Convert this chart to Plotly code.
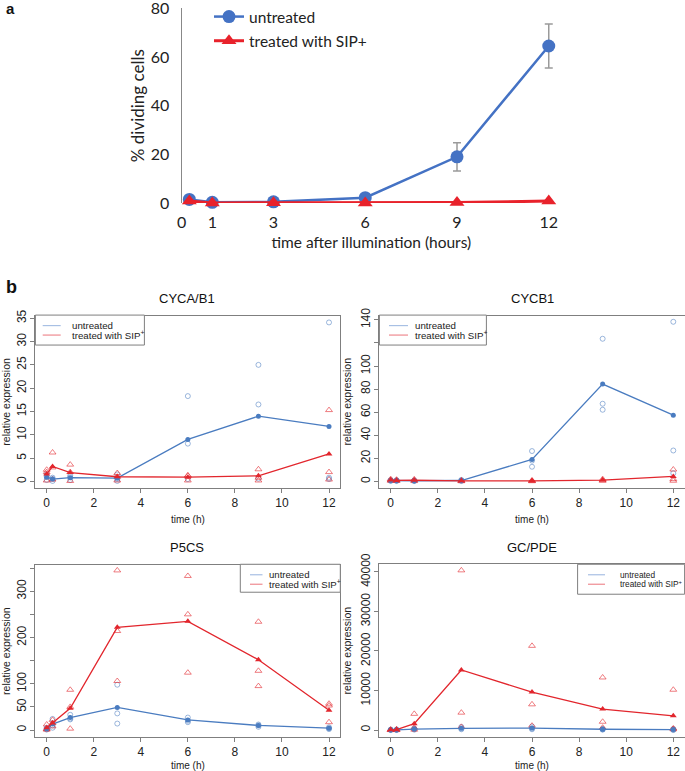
import plotly.graph_objects as go

W, H = 685, 771

# ---------------- panel a data ----------------
times_a = [0.25, 1, 3, 6, 9, 12]
untreated_a = [1.5, 0.3, 0.5, 2.2, 19.0, 64.5]
untreated_a_err = [0.5, 0.2, 0.3, 0.6, 5.8, 9.0]
treated_a = [0.8, 0.0, 0.1, 0.0, 0.2, 0.8]
xticks_a = [0, 1, 3, 6, 9, 12]
yticks_a = [0, 20, 40, 60, 80]

# ---------------- panel b data ----------------
times_b = [0, 0.25, 1, 3, 6, 9, 12]

cyca_untreated_reps = [[1.5, 1.0, 0.3], [0.8, 0.5, 0.1], [1.2, 0.9, 0.3], [1.5, 0.5, 0.1],
                       [18.3, 8.1, 0.5], [25.0, 16.5, 0.6], [34.1, 0.8, 0.5]]
cyca_untreated_mean = [0.9, 0.5, 0.8, 0.7, 9.0, 14.0, 11.8]
cyca_treated_reps = [[2.0, 2.5, 0.2], [6.2, 3.0, 0.4], [3.6, 2.0, 0.1], [1.8, 1.0, 0.2],
                     [1.3, 1.2, 0.2], [2.6, 0.8, 0.2], [15.3, 2.0, 0.4]]
cyca_treated_mean = [1.6, 3.2, 1.9, 1.0, 0.9, 1.2, 5.9]

cycb_untreated_reps = [[1.2, 0.8, 0.4], [1.0, 0.7, 0.3], [0.9, 0.5, 0.3], [1.3, 0.8, 0.3],
                       [26.3, 12.7, 18.0], [123.6, 67.3, 62.1], [138.3, 26.8, 7.1]]
cycb_untreated_mean = [0.8, 0.7, 0.6, 0.8, 19.0, 84.3, 57.4]
cycb_treated_reps = [[2.0, 1.0, 0.6], [1.5, 0.8, 0.4], [1.8, 0.9, 0.3], [0.9, 0.4, 0.2],
                     [0.9, 0.4, 0.2], [2.0, 1.0, 0.6], [10.3, 2.0, 0.6]]
cycb_treated_mean = [1.2, 0.9, 1.0, 0.5, 0.5, 1.2, 4.3]

p5cs_untreated_reps = [[5, 2, 1], [24, 10, 5], [33, 25, 23], [98, 36, 14],
                       [27, 20, 17], [12, 10, 7], [6, 4, 2]]
p5cs_untreated_mean = [3, 13, 27, 49, 22, 10, 4]
p5cs_treated_reps = [[12, 2, 1], [22, 15, 8], [87, 50, 3], [345, 214, 106],
                     [333, 250, 124], [234, 128, 95], [57, 53, 17]]
p5cs_treated_mean = [5, 15, 47, 222, 235, 152, 43]

gcpde_untreated_reps = [[100, 50, 0], [100, 50, 0], [400, 250, 100], [800, 400, 200],
                        [900, 400, 200], [300, 200, 100], [300, 100, 0]]
gcpde_untreated_mean = [50, 50, 250, 450, 500, 200, 130]
gcpde_treated_reps = [[100, 50, 0], [200, 100, 0], [4100, 600, 100], [40400, 4400, 800],
                      [21300, 6500, 1100], [13300, 2100, 600], [10200, 400, 200]]
gcpde_treated_mean = [50, 100, 1600, 15200, 9600, 5300, 3600]

xticks_b = [0, 2, 4, 6, 8, 10, 12]
legend_labels_b = ["untreated", "treated with SIP<sup>+</sup>"]

# ---------------- styling ----------------
BLUE_A = "#4472C4"
RED_A = "#E8222B"
BLUE = "#4a7cc0"
RED = "#e2262d"
BLUE_O = "rgba(74,124,192,0.55)"
RED_O = "rgba(226,38,45,0.6)"
BLUE_L = "rgba(110,150,210,0.6)"
RED_L = "rgba(226,60,70,0.6)"
GRAY = "#7f7f7f"
FONT_A = "Lato"
FONT_B = "Liberation Sans"


def px(x):
    return x / W


def py(y):
    return 1 - y / H


fig = go.Figure()

# ---------------- panel a ----------------
fig.add_trace(go.Scatter(
    x=times_a, y=untreated_a, mode="lines+markers", name="untreated",
    line=dict(color=BLUE_A, width=2.5), marker=dict(symbol="circle", size=13, color=BLUE_A),
    error_y=dict(type="data", array=untreated_a_err, color="#9a9a9a", thickness=1.5, width=4),
    xaxis="x", yaxis="y", legendgroup="ua", cliponaxis=False))
fig.add_trace(go.Scatter(
    x=times_a, y=treated_a, mode="lines+markers", name="treated with SIP+",
    line=dict(color=RED_A, width=3), marker=dict(symbol="triangle-up", size=13, color=RED_A),
    xaxis="x", yaxis="y", legendgroup="ta", cliponaxis=False))

# ---------------- panel b ----------------
panels = [
    ("2", cyca_untreated_reps, cyca_untreated_mean, cyca_treated_reps, cyca_treated_mean),
    ("3", cycb_untreated_reps, cycb_untreated_mean, cycb_treated_reps, cycb_treated_mean),
    ("4", p5cs_untreated_reps, p5cs_untreated_mean, p5cs_treated_reps, p5cs_treated_mean),
    ("5", gcpde_untreated_reps, gcpde_untreated_mean, gcpde_treated_reps, gcpde_treated_mean),
]

for k, ureps, umean, treps, tmean in panels:
    xa, ya = "x" + k, "y" + k
    ux = [t for t, r in zip(times_b, ureps) for _ in r]
    uy = [v for r in ureps for v in r]
    tx = [t for t, r in zip(times_b, treps) for _ in r]
    ty = [v for r in treps for v in r]
    fig.add_trace(go.Scatter(x=ux, y=uy, mode="markers", showlegend=False, xaxis=xa, yaxis=ya,
                             name="untreated (replicates)",
                             marker=dict(symbol="circle-open", size=5, color=BLUE_O, line=dict(width=1)),
                             cliponaxis=False))
    fig.add_trace(go.Scatter(x=tx, y=ty, mode="markers", showlegend=False, xaxis=xa, yaxis=ya,
                             name="treated (replicates)",
                             marker=dict(symbol="triangle-up-open", size=6, color=RED_O, line=dict(width=1)),
                             cliponaxis=False))
    fig.add_trace(go.Scatter(x=times_b, y=umean, mode="lines+markers", showlegend=False, xaxis=xa, yaxis=ya,
                             name="untreated",
                             line=dict(color=BLUE, width=1.3), marker=dict(symbol="circle", size=5, color=BLUE)))
    fig.add_trace(go.Scatter(x=times_b, y=tmean, mode="lines+markers", showlegend=False, xaxis=xa, yaxis=ya,
                             name="treated with SIP+",
                             line=dict(color=RED, width=1.3), marker=dict(symbol="triangle-up", size=6, color=RED)))

# ---------------- axes ----------------
fig.update_layout(
    xaxis=dict(domain=[px(181.7), px(561)], range=[0, 12.4], tickvals=xticks_a, showline=False,
               showgrid=False, zeroline=False, ticks="", automargin=False, ticklabelstandoff=8,
               ticklabeloverflow="allow",
               tickfont=dict(family=FONT_A, size=16, color="#222"),
               title=dict(text="time after illumination (hours)", font=dict(family=FONT_A, size=15.5, color="#222"),
                          standoff=7)),
    yaxis=dict(domain=[py(202.3), py(7.3)], range=[0, 80], tickvals=yticks_a, showline=True,
               linecolor="#888", linewidth=1.2, showgrid=False, zeroline=False, ticks="", automargin=False,
               ticklabelstandoff=8, ticklabeloverflow="allow",
               tickfont=dict(family=FONT_A, size=16, color="#222"),
               title=dict(text="% dividing cells", font=dict(family=FONT_A, size=17, color="#222"), standoff=1)),
)

geo = {
    "2": dict(x=(35.4, 340.3), y=(315.5, 487.4), yr=[-1.364, 35.46], yt=[0, 5, 10, 15, 20, 25, 30, 35],
              ytt=["0", "5", "10", "15", "20", "25", "30", "35"]),
    "3": dict(x=(379.4, 684.6), y=(315.2, 487.4), yr=[-5.5, 143.5], yt=[0, 20, 40, 60, 80, 100, 120, 140],
              ytt=["0", "20", "40", "60", "80", "100", "", "140"]),
    "4": dict(x=(35.4, 340.3), y=(565, 737), yr=[-15.1, 356.1], yt=[0, 50, 100, 150, 200, 250, 300, 350],
              ytt=["0", "50", "100", "", "200", "", "300", ""]),
    "5": dict(x=(379.4, 684.6), y=(564, 737), yr=[-1768, 41940], yt=[0, 10000, 20000, 30000, 40000],
              ytt=["0", "10000", "20000", "30000", "40000"]),
}

for k, g in geo.items():
    fig.layout["xaxis" + k] = dict(
        domain=[px(g["x"][0]), px(g["x"][1])], range=[-0.48, 12.48], tickvals=xticks_b, anchor="y" + k,
        showline=True, mirror=True, linecolor=GRAY, linewidth=1, showgrid=False, zeroline=False,
        ticks="outside", ticklen=4, tickcolor=GRAY, automargin=False, ticklabeloverflow="allow",
        tickfont=dict(family=FONT_B, size=12, color="#222"),
        title=dict(text="time (h)", font=dict(family=FONT_B, size=10, color="#222"), standoff=6))
    fig.layout["yaxis" + k] = dict(
        domain=[py(g["y"][1]), py(g["y"][0])], range=g["yr"], tickvals=g["yt"], ticktext=g["ytt"],
        anchor="x" + k, showline=True, mirror=True, linecolor=GRAY, linewidth=1, showgrid=False,
        zeroline=False, ticks="outside", ticklen=4, tickcolor=GRAY, tickangle=-90, automargin=False,
        ticklabeloverflow="allow",
        tickfont=dict(family=FONT_B, size=12, color="#222"),
        title=dict(text="relative expression", font=dict(family=FONT_B, size=10.5, color="#222"), standoff=4))

# ---------------- legends ----------------
# panel a: native legend
fig.update_layout(
    showlegend=True,
    legend=dict(x=px(209), y=py(-1.5), xanchor="left", yanchor="top", bgcolor="rgba(0,0,0,0)",
                font=dict(family=FONT_A, size=15.5, color="#222"), tracegroupgap=1, itemwidth=30),
)

# panel b: R-style boxed legends
# (box left, box top, width, height, line start offset, line length, text offset, font size)
legend_boxes_b = {
    "2": (35.4, 314.5, 109, 30, 7.3, 18, 34.6, 9.7),
    "3": (379.4, 314.5, 107, 30, 9.6, 19, 34.0, 9.7),
    "4": (240.3, 564.0, 100, 28, 9.7, 12.5, 26.4, 9.6),
    "5": (577.6, 564.0, 107, 30, 10.4, 17, 40.4, 8.3),
}
for k, (bx, by, bw, bh, lo, ll, to, fs) in legend_boxes_b.items():
    fig.add_shape(type="rect", xref="paper", yref="paper", x0=px(bx), x1=px(bx + bw), y0=py(by), y1=py(by + bh),
                  line=dict(color=GRAY, width=1), fillcolor="white", layer="above")
    for i, (lab, col) in enumerate(zip(legend_labels_b, [BLUE_L, RED_L])):
        yy = by + 10.5 + i * 9.5
        fig.add_shape(type="line", xref="paper", yref="paper", x0=px(bx + lo), x1=px(bx + lo + ll),
                      y0=py(yy), y1=py(yy), line=dict(color=col, width=1.2), layer="above")
        fig.add_annotation(text=lab, x=px(bx + to), y=py(yy), xref="paper", yref="paper", showarrow=False,
                           xanchor="left", yanchor="middle", font=dict(family=FONT_B, size=fs, color="#222"))

# ---------------- titles / panel letters ----------------
ann = [
    ("a", 10, 8, 15, "Liberation Sans", True),
    ("b", 11, 286, 18, "Liberation Sans", True),
    ("CYCA/B1", 187, 298, 13, FONT_B, False),
    ("CYCB1", 532, 298, 13, FONT_B, False),
    ("P5CS", 187, 547, 13, FONT_B, False),
    ("GC/PDE", 532, 547, 13, FONT_B, False),
]
for text, x, y, size, fam, bold in ann:
    fig.add_annotation(text=f"<b>{text}</b>" if bold else text, x=px(x), y=py(y), xref="paper", yref="paper",
                       showarrow=False, xanchor="center", yanchor="middle",
                       font=dict(family=fam, size=size, color="#111"))

fig.update_layout(width=W, height=H, margin=dict(l=0, r=0, t=0, b=0), plot_bgcolor="white",
                  paper_bgcolor="white")

fig.write_html("out.html", config={"displayModeBar": False},
               post_script="document.body.style.margin='0';document.body.style.overflow='hidden';")
